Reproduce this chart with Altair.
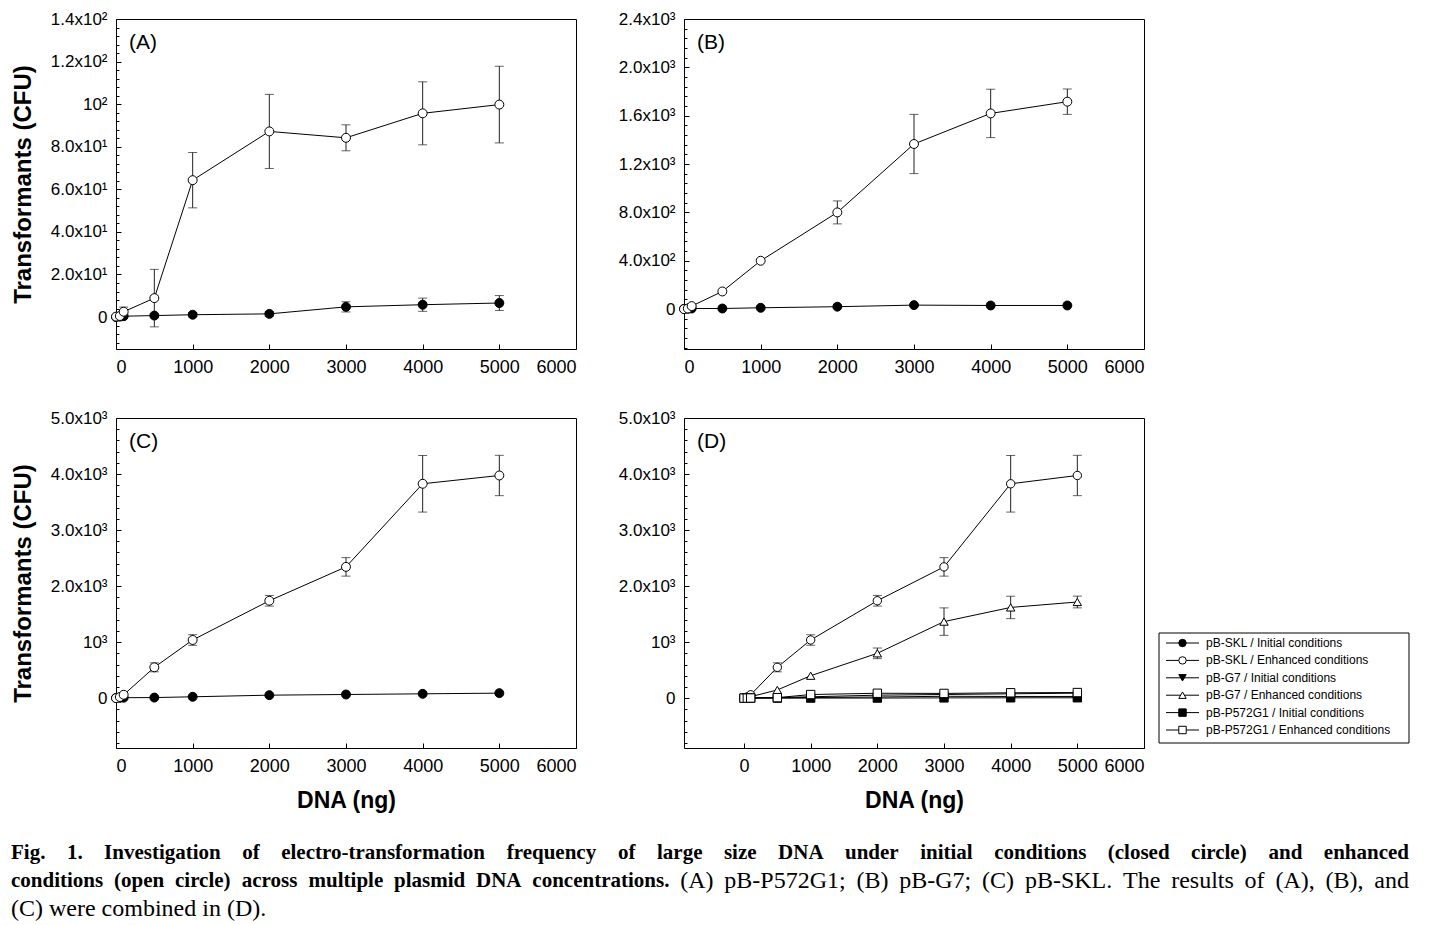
import altair as alt
import pandas as pd

FONT = "Liberation Sans"
SERIF = "Liberation Serif"

# ---------------- data ----------------
DOSE = [0, 50, 100, 500, 1000, 2000, 3000, 4000, 5000]

# (A) pB-P572G1
P572_INIT = [0.0, 0.2, 0.4, 0.7, 1.1, 1.5, 4.8, 5.8, 6.6]
P572_INIT_ERR = [0, 0, 0, 1.0, 1.0, 1.0, 2.4, 3.1, 3.5]
P572_ENH = [0.2, 0.5, 2.5, 8.9, 64.3, 87.2, 84.2, 95.7, 99.8]
P572_ENH_ERR = [0, 0, 2.2, 13.5, 13.0, 17.4, 6.1, 14.8, 18.0]

# (B) pB-G7
G7_INIT = [2, 3, 5, 5, 11, 20, 33, 30, 30]
G7_INIT_ERR = [0, 0, 0, 0, 0, 0, 0, 0, 0]
G7_ENH = [0, 5, 25, 146, 400, 800, 1366, 1619, 1716]
G7_ENH_ERR = [0, 0, 0, 0, 0, 95, 245, 200, 105]

# (C) pB-SKL
SKL_INIT = [3, 5, 8, 10, 24, 53, 65, 77, 89]
SKL_INIT_ERR = [0, 0, 0, 0, 0, 0, 0, 0, 0]
SKL_ENH = [0, 20, 60, 550, 1038, 1738, 2343, 3826, 3974]
SKL_ENH_ERR = [0, 0, 0, 80, 95, 95, 165, 505, 360]

SERIES = [
    "pB-SKL / Initial conditions",
    "pB-SKL / Enhanced conditions",
    "pB-G7 / Initial conditions",
    "pB-G7 / Enhanced conditions",
    "pB-P572G1 / Initial conditions",
    "pB-P572G1 / Enhanced conditions",
]

X_TICKS = [0, 1000, 2000, 3000, 4000, 5000, 6000]

A_YTICKS = [0, 20, 40, 60, 80, 100, 120, 140]
A_YLABELS = ["0", "2.0x10¹", "4.0x10¹", "6.0x10¹", "8.0x10¹", "10²", "1.2x10²", "1.4x10²"]
B_YTICKS = [0, 400, 800, 1200, 1600, 2000, 2400]
B_YLABELS = ["0", "4.0x10²", "8.0x10²", "1.2x10³", "1.6x10³", "2.0x10³", "2.4x10³"]
C_YTICKS = [0, 1000, 2000, 3000, 4000, 5000]
C_YLABELS = ["0", "10³", "2.0x10³", "3.0x10³", "4.0x10³", "5.0x10³"]

CAP1 = ("Fig. 1. Investigation of electro-transformation frequency of large size DNA "
        "under initial conditions (closed circle) and enhanced")
CAP2_BOLD = "conditions (open circle) across multiple plasmid DNA concentrations."
CAP2_REG = "(A) pB-P572G1; (B) pB-G7; (C) pB-SKL. The results of (A), (B), and"
CAP3 = "(C) were combined in (D)."

# ---------------- styles ----------------
W, H = 460, 330
CIRCLES = ["circle", "circle"]
OPEN_CLOSED = ["black", "white"]
D_SHAPES = ["circle", "circle", "triangle-down", "triangle-up", "square", "square"]
D_FILLS = ["black", "white", "black", "white", "black", "white"]

BOLD_SIZE, REG_SIZE = 21, 24
CAP_WIDTH = 1398

# Times (metric-compatible with Liberation Serif) advance widths, 1/1000 em
_common = {" ": 250, "(": 333, ")": 333, ",": 250, "-": 333, ".": 250, "/": 278}
_common.update({str(d): 500 for d in range(10)})
TIMES_BOLD = dict(_common)
TIMES_BOLD.update({":": 333, ";": 333})
TIMES_BOLD.update(dict(zip("ABCDEFGHIJKLMNOPQRSTUVWXYZ",
    [722, 667, 722, 722, 667, 611, 778, 778, 389, 500, 778, 667, 944, 722, 778, 611,
     778, 722, 556, 667, 722, 722, 1000, 722, 722, 667])))
TIMES_BOLD.update(dict(zip("abcdefghijklmnopqrstuvwxyz",
    [500, 556, 444, 556, 444, 333, 500, 556, 278, 333, 556, 278, 833, 556, 500, 556,
     556, 444, 389, 333, 556, 500, 722, 500, 500, 444])))
TIMES_REG = dict(_common)
TIMES_REG.update({":": 278, ";": 278})
TIMES_REG.update(dict(zip("ABCDEFGHIJKLMNOPQRSTUVWXYZ",
    [722, 667, 667, 722, 611, 556, 722, 722, 333, 389, 722, 611, 889, 722, 722, 556,
     722, 667, 556, 611, 722, 722, 944, 722, 722, 611])))
TIMES_REG.update(dict(zip("abcdefghijklmnopqrstuvwxyz",
    [444, 500, 444, 500, 444, 333, 500, 500, 278, 278, 500, 278, 778, 500, 500, 500,
     500, 333, 389, 278, 500, 500, 722, 500, 500, 444])))
STYLE = {"bold": (TIMES_BOLD, BOLD_SIZE), "regular": (TIMES_REG, REG_SIZE)}


def text_width(s, style):
    table, size = STYLE[style]
    return sum(table.get(ch, 500) for ch in s) * size / 1000.0


def lay_line(segments, line_no, justify):
    words = [(w, st) for txt, st in segments for w in txt.split(" ")]
    total = sum(text_width(w, st) for w, st in words)
    if justify:
        gap = (CAP_WIDTH - total) / (len(words) - 1)
    else:
        gap = 0.25 * REG_SIZE
    rows, x = [], 0.0
    for w, st in words:
        rows.append({"word": w, "style": st, "px": x, "line": line_no})
        x += text_width(w, st) + gap
    return rows


def caption_frame():
    rows = []
    rows += lay_line([(CAP1, "bold")], 0, True)
    rows += lay_line([(CAP2_BOLD, "bold"), (CAP2_REG, "regular")], 1, True)
    rows += lay_line([(CAP3, "regular")], 2, False)
    return pd.DataFrame(rows)


def long_frame(names, values, errors):
    rows = []
    for n, vals, errs in zip(names, values, errors):
        for d, v, e in zip(DOSE, vals, errs):
            rows.append({"dose": d, "value": v, "err": e, "series": n})
    df = pd.DataFrame(rows)
    df["lo"] = df["value"] - df["err"]
    df["hi"] = df["value"] + df["err"]
    return df


def label_expr(vals, labs):
    expr = "''"
    for v, l in reversed(list(zip(vals, labs))):
        expr = f"(datum.value == {v} ? '{l}' : {expr})"
    return expr


def minor_ticks(lo, hi, step, majors):
    out = []
    v = 0
    while v - step >= lo:
        v -= step
        out.append(v)
    v = 0
    while v + step <= hi:
        v += step
        out.append(v)
    return [t for t in out if t not in majors]


def legend_layers():
    leg_df = pd.DataFrame({"name": SERIES})
    box = alt.Chart(pd.DataFrame({"b": [0]})).mark_rect(
        fill="white", stroke="black", strokeWidth=1).encode(
        x=alt.value(475), x2=alt.value(725), y=alt.value(215), y2=alt.value(325))
    yenc = alt.Y("name:N", sort=SERIES, axis=None,
                 scale=alt.Scale(type="point", domain=SERIES, range=[225, 312], padding=0))
    rule = alt.Chart(leg_df).mark_rule(color="black", strokeWidth=1).encode(
        x=alt.value(482), x2=alt.value(515), y=yenc)
    pts = alt.Chart(leg_df).mark_point(filled=True, size=55, stroke="black", strokeWidth=1,
                                       opacity=1).encode(
        x=alt.value(498.5), y=yenc,
        shape=alt.Shape("name:N", scale=alt.Scale(domain=SERIES, range=D_SHAPES), legend=None),
        fill=alt.Fill("name:N", scale=alt.Scale(domain=SERIES, range=D_FILLS), legend=None),
    )
    txt = alt.Chart(leg_df).mark_text(align="left", baseline="middle", fontSize=12,
                                      font=FONT, color="black").encode(
        x=alt.value(522), y=yenc, text="name:N")
    return [box, rule, pts, txt]


def caption_layers():
    cdf = caption_frame()
    layers = []
    for style, weight, size in [("bold", "bold", BOLD_SIZE), ("regular", "normal", REG_SIZE)]:
        layers.append(
            alt.Chart(cdf[cdf["style"] == style]).mark_text(
                align="left", baseline="middle", font=SERIF, fontSize=size,
                fontWeight=weight, color="black").encode(
                x=alt.X("px:Q", axis=None,
                        scale=alt.Scale(domain=[0, CAP_WIDTH], range=[-105, -105 + CAP_WIDTH])),
                y=alt.Y("line:O", axis=None,
                        scale=alt.Scale(type="point", domain=[0, 1, 2], range=[435, 491],
                                        padding=0)),
                text="word:N",
            )
        )
    return layers


def panel(df, names, shapes, fills, xdom, ydom, yticks, ylabels, ystep, tag,
          ytitle=None, xtitle=None, size=80, extra=()):
    xs = alt.Scale(domain=xdom, nice=False, zero=False)
    ys = alt.Scale(domain=ydom, nice=False, zero=False)
    yminor = minor_ticks(ydom[0], ydom[1], ystep, yticks)
    errdf = df[df["err"] > 0]

    err = alt.Chart(errdf).mark_rule(color="#222222", strokeWidth=1).encode(
        x=alt.X("dose:Q", scale=xs, axis=None),
        y=alt.Y("lo:Q", scale=ys, title=None,
                axis=alt.Axis(orient="right", offset=-W, values=yminor, labels=False,
                              domain=False, grid=False, tickSize=3, tickColor="black",
                              tickWidth=1)),
        y2="hi:Q",
    )
    cap_lo = alt.Chart(errdf).mark_tick(orient="horizontal", size=9, thickness=1,
                                        color="#222222").encode(
        x=alt.X("dose:Q", scale=xs, axis=None),
        y=alt.Y("lo:Q", scale=ys, axis=None),
    )
    cap_hi = alt.Chart(errdf).mark_tick(orient="horizontal", size=9, thickness=1,
                                        color="#222222").encode(
        x=alt.X("dose:Q", scale=xs, axis=None),
        y=alt.Y("hi:Q", scale=ys, axis=None),
    )
    line = alt.Chart(df).mark_line(color="black", strokeWidth=1).encode(
        x=alt.X("dose:Q", scale=xs, title=xtitle,
                axis=alt.Axis(orient="bottom", values=X_TICKS, format="d", ticks=False,
                              domain=False, grid=False, labelPadding=9, labelFontSize=18,
                              labelFont=FONT, labelColor="black", titleFont=FONT,
                              titleFontSize=23, titleFontWeight="bold", titlePadding=14,
                              titleColor="black")),
        y=alt.Y("value:Q", scale=ys, title=ytitle,
                axis=alt.Axis(orient="left", values=yticks,
                              labelExpr=label_expr(yticks, ylabels), ticks=False,
                              domain=False, grid=False, labelPadding=9, labelFontSize=17,
                              labelFont=FONT, labelColor="black", titleFont=FONT,
                              titleFontSize=24, titleFontWeight="bold", titlePadding=15,
                              titleColor="black")),
        detail="series:N",
        order="dose:Q",
    )
    pts = alt.Chart(df).mark_point(filled=True, size=size, stroke="black", strokeWidth=1,
                                   opacity=1).encode(
        x=alt.X("dose:Q", scale=xs, title=None,
                axis=alt.Axis(orient="top", offset=-H, values=X_TICKS, labels=False,
                              domain=False, grid=False, tickSize=5, tickColor="black",
                              tickWidth=1)),
        y=alt.Y("value:Q", scale=ys, title=None,
                axis=alt.Axis(orient="right", offset=-W, values=yticks, labels=False,
                              domain=False, grid=False, tickSize=5, tickColor="black",
                              tickWidth=1)),
        shape=alt.Shape("series:N", scale=alt.Scale(domain=names, range=shapes), legend=None),
        fill=alt.Fill("series:N", scale=alt.Scale(domain=names, range=fills), legend=None),
    )
    tagc = alt.Chart(pd.DataFrame({"t": [tag]})).mark_text(
        align="left", baseline="middle", fontSize=21, font=FONT, color="black"
    ).encode(x=alt.value(13), y=alt.value(24), text="t:N")

    return alt.layer(err, cap_lo, cap_hi, line, pts, tagc, *extra).resolve_axis(
        x="independent", y="independent").resolve_scale(
        x="independent", y="independent", shape="independent", fill="independent"
    ).properties(width=W, height=H)


dfA = long_frame(SERIES[4:6], [P572_INIT, P572_ENH], [P572_INIT_ERR, P572_ENH_ERR])
dfB = long_frame(SERIES[2:4], [G7_INIT, G7_ENH], [G7_INIT_ERR, G7_ENH_ERR])
dfC = long_frame(SERIES[0:2], [SKL_INIT, SKL_ENH], [SKL_INIT_ERR, SKL_ENH_ERR])
dfD = long_frame(SERIES,
                 [SKL_INIT, SKL_ENH, G7_INIT, G7_ENH, P572_INIT, P572_ENH],
                 [SKL_INIT_ERR, SKL_ENH_ERR, G7_INIT_ERR, G7_ENH_ERR, P572_INIT_ERR, P572_ENH_ERR])

pA = panel(dfA, SERIES[4:6], CIRCLES, OPEN_CLOSED, [0, 6000], [-15, 140],
           A_YTICKS, A_YLABELS, 4, "(A)", ytitle="Transformants (CFU)")
pB = panel(dfB, SERIES[2:4], CIRCLES, OPEN_CLOSED, [0, 6000], [-330, 2400],
           B_YTICKS, B_YLABELS, 80, "(B)")
pC = panel(dfC, SERIES[0:2], CIRCLES, OPEN_CLOSED, [0, 6000], [-890, 5000],
           C_YTICKS, C_YLABELS, 200, "(C)", ytitle="Transformants (CFU)", xtitle="DNA (ng)",
           extra=caption_layers())
pD = panel(dfD, SERIES, D_SHAPES, D_FILLS, [-900, 6000], [-890, 5000],
           C_YTICKS, C_YLABELS, 200, "(D)", xtitle="DNA (ng)", size=70,
           extra=legend_layers())

chart = alt.concat(pA, pB, pC, pD, columns=2, spacing={"row": 69, "column": 108},
                   bounds="flush").properties(
    padding={"left": 2, "top": 1, "right": 5, "bottom": 5},
    background="white",
).configure_view(stroke="black", strokeWidth=1)

chart.save("out.html", embed_options={"renderer": "svg", "actions": False})
